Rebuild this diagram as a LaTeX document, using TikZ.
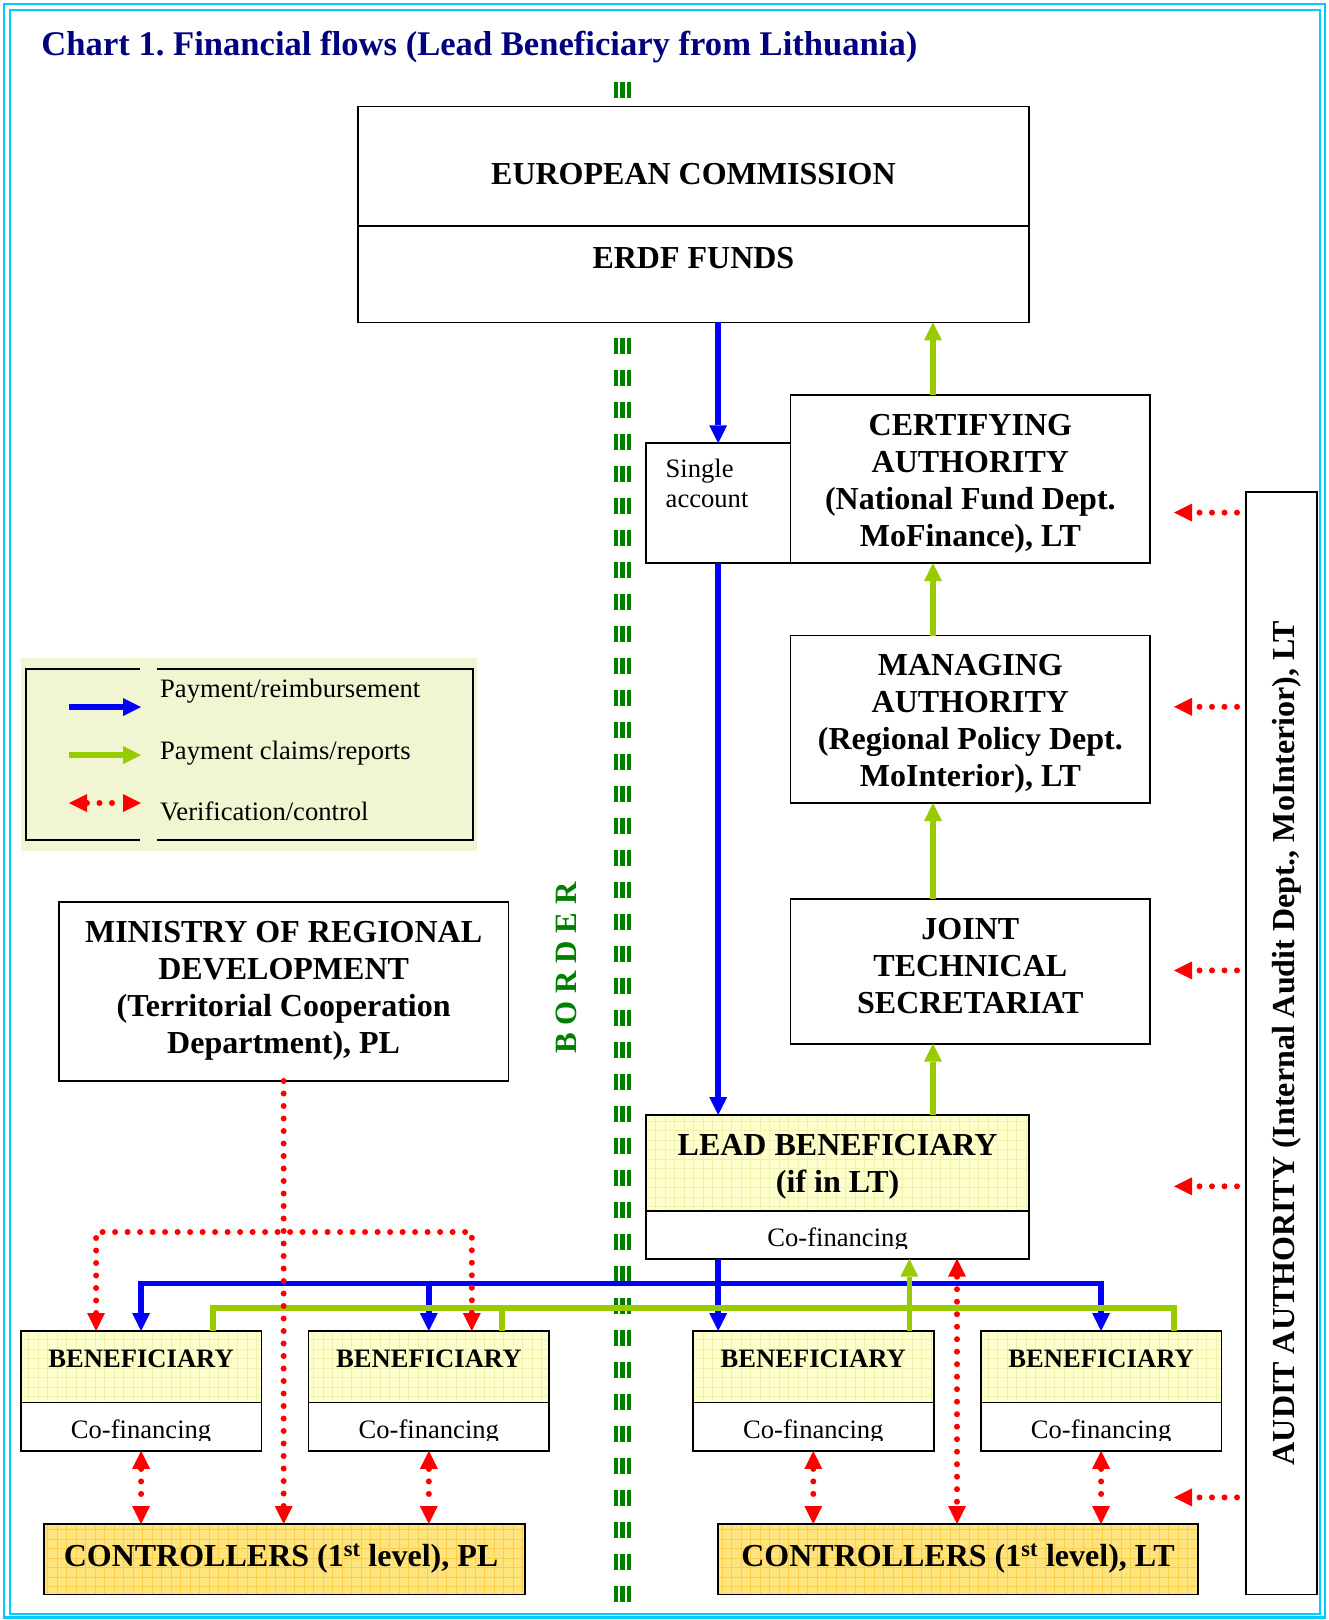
\documentclass[tikz,border=0pt]{standalone}
\usepackage{fontspec}
\setmainfont{Liberation Serif}
\usetikzlibrary{arrows.meta}
\frenchspacing
\definecolor{frameblue}{RGB}{0,204,255}
\definecolor{navy}{RGB}{0,0,128}
\definecolor{bordergreen}{RGB}{0,128,0}
\definecolor{payblue}{RGB}{0,0,255}
\definecolor{claimgreen}{RGB}{153,204,0}
\definecolor{lightyel}{RGB}{255,255,204}
\definecolor{lightyelgrid}{RGB}{240,240,175}
\definecolor{goldyel}{RGB}{255,228,125}
\definecolor{goldgrid}{RGB}{248,206,75}
\definecolor{legendbg}{RGB}{242,245,210}
\newcommand{\gfill}[6]{%
  \fill[#5] (#1,#2) rectangle (#3,#4);
  \begin{scope}
    \clip (#1,#2) rectangle (#3,#4);
    \draw[#6, line width=0.6pt, step=9.5pt] (#1,#2) grid (#3,#4);
  \end{scope}}
\tikzset{
  box/.style={draw=black, line width=1.8pt, fill=white, inner sep=0pt, outer sep=0pt},
  boxnf/.style={draw=black, line width=1.8pt, inner sep=0pt, outer sep=0pt},
  bigtxt/.style={font=\fontsize{32}{37}\selectfont\bfseries, align=center, inner sep=0pt},
  midtxt/.style={font=\fontsize{26.6}{30}\selectfont\bfseries, inner sep=0pt},
  smalltxt/.style={font=\fontsize{26.6}{30}\selectfont, inner sep=0pt},
  pay/.style={draw=payblue, line width=5.5pt},
  claim/.style={draw=claimgreen, line width=5.5pt},
  ver/.style={draw=red, line width=6pt, line cap=round, dash pattern=on 0pt off 12.5pt},
}
\begin{document}
\begin{tikzpicture}[x=1pt,y=-1pt,>={Triangle[length=18pt,width=18pt,line width=0pt]}]
\useasboundingbox (0,0) rectangle (1329,1620);
\fill[white] (0,0) rectangle (1329,1620);
% frame
\draw[frameblue, line width=2.5pt] (4,4) rectangle (1325,1617.5);
\draw[frameblue, line width=2pt] (9.5,10) rectangle (1320,1614);
% title
\node[anchor=base west, font=\fontsize{34.6}{40}\selectfont\bfseries, text=navy, inner sep=0pt] (title) at (41.3,55) {Chart 1. Financial flows (Lead Beneficiary from Lithuania)};
% border line
\foreach \xx/\ww in {615.5/4pt, 622/5pt, 628.5/4pt}
  \draw[bordergreen, line width=\ww, dash pattern=on 16pt off 16pt] (\xx,82) -- (\xx,1602);
\node[font=\fontsize{31}{31}\selectfont\bfseries, text=bordergreen, rotate=90, inner sep=0pt] (bordertxt) at (566,968) {B O R D E R};
% legend
\fill[legendbg] (21,658) rectangle (477,851);
\draw[black, line width=1.8pt] (140,669) -- (26,669) -- (26,840) -- (140,840);
\draw[black, line width=1.8pt] (157,669) -- (473,669) -- (473,840) -- (157,840);
\coordinate (lp1) at (69,707); \coordinate (lp2) at (141,707);
\coordinate (lc1) at (69,755); \coordinate (lc2) at (141,755);
\coordinate (lv1) at (69,803); \coordinate (lv2) at (141,803);
\draw[pay,->] (lp1) -- (lp2);
\draw[claim,->] (lc1) -- (lc2);
\draw[ver,<->] (lv1) -- (lv2);
\node[smalltxt, anchor=base west] (legp) at (160,697) {Payment/reimbursement};
\node[smalltxt, anchor=base west] (legc) at (160,759) {Payment claims/reports};
\node[smalltxt, anchor=base west] (legv) at (160,820) {Verification/control};
% European Commission
\node[box, minimum width=671.7pt, minimum height=216pt] (ec) at (693.45,214.4) {};
\coordinate (ecdiv) at (0,226.3);
\draw[line width=1.8pt] (ec.west |- ecdiv) -- (ec.east |- ecdiv);
\node[bigtxt, anchor=base] (ectxt) at (693.4,184) {EUROPEAN COMMISSION};
\node[bigtxt, anchor=base] (erdf) at (693.4,268) {ERDF FUNDS};
% single account
\node[box, minimum width=144.6pt, minimum height=119.9pt] (sa) at (718.2,503.25) {};
\node[smalltxt, anchor=base west] (satxt1) at (665.5,477) {Single};
\node[smalltxt, anchor=base west] (satxt2) at (665.5,507) {account};
% certifying
\node[box, minimum width=359.7pt, minimum height=168.4pt] (cert) at (970.35,479) {};
\node[bigtxt] (certtxt) at (970.35,483.7) {CERTIFYING\\AUTHORITY\\(National Fund Dept.\\MoFinance), LT};
% managing
\node[box, minimum width=359.7pt, minimum height=167.5pt] (ma) at (970.35,719.25) {};
\node[bigtxt] (matxt) at (970.35,723.5) {MANAGING\\AUTHORITY\\(Regional Policy Dept.\\MoInterior), LT};
% JTS
\node[box, minimum width=359.7pt, minimum height=144.7pt] (jts) at (970.35,971.35) {};
\node[bigtxt] (jtstxt) at (970.35,966) {JOINT\\TECHNICAL\\SECRETARIAT};
% ministry
\node[box, minimum width=449.5pt, minimum height=178.9pt] (min) at (283.65,991.55) {};
\node[bigtxt] (mintxt) at (283.65,991) {MINISTRY OF REGIONAL\\DEVELOPMENT\\(Territorial Cooperation\\Department), PL};
% lead beneficiary
\gfill{645.9}{1115}{1029.3}{1211}{lightyel}{lightyelgrid}
\node[boxnf, minimum width=383.4pt, minimum height=143.7pt] (lb) at (837.6,1186.85) {};
\coordinate (lbdiv) at (0,1211);
\draw[line width=1.8pt] (lb.west |- lbdiv) -- (lb.east |- lbdiv);
\node[bigtxt] (lbtxt) at (837.6,1167) {LEAD BENEFICIARY\\(if in LT)};
\begin{scope}
  \clip (646,1212) rectangle (1029,1248);
  \node[smalltxt, anchor=base] (lbcof) at (837.6,1246) {Co-financing};
\end{scope}
% beneficiaries
\foreach \nm/\cx in {b1/141.1, b2/428.85, b3/813.3, b4/1101.1}{
  \gfill{\cx-120.4}{1331}{\cx+120.4}{1402.4}{lightyel}{lightyelgrid}
  \node[boxnf, minimum width=240.8pt, minimum height=119.9pt] (\nm) at (\cx,1390.95) {};
  \draw[line width=1.8pt] (\cx-120.4,1402.4) -- (\cx+120.4,1402.4);
  \node[midtxt, anchor=base] (\nm t) at (\cx,1367) {BENEFICIARY};
  \begin{scope}
    \clip (\cx-119,1403.5) rectangle (\cx+119,1440.5);
    \node[smalltxt, anchor=base] (\nm c) at (\cx,1438) {Co-financing};
  \end{scope}
}
% controllers
\gfill{44}{1524}{525}{1594.5}{goldyel}{goldgrid}
\node[boxnf, minimum width=481pt, minimum height=70.5pt] (cpl) at (284.5,1559.25) {};
\node[bigtxt, anchor=base] (cpltxt) at (281,1566) {CONTROLLERS (1\textsuperscript{st} level), PL};
\gfill{718}{1524}{1197.7}{1594.5}{goldyel}{goldgrid}
\node[boxnf, minimum width=479.7pt, minimum height=70.5pt] (clt) at (957.85,1559.25) {};
\node[bigtxt, anchor=base] (clttxt) at (958,1566) {CONTROLLERS (1\textsuperscript{st} level), LT};
% audit authority
\node[box, minimum width=71pt, minimum height=1102.6pt] (aa) at (1281.5,1043.2) {};
\node[bigtxt, rotate=90] (aatxt) at (1287,1043) {AUDIT AUTHORITY (Internal Audit Dept., MoInterior), LT};
% ---- connectors ----
\coordinate (xg) at (933,0);
\coordinate (xlbv) at (957,0);
\coordinate (ybus) at (0,1283.5);
\coordinate (ygbus) at (0,1308);
\coordinate (ybr) at (0,1232);
% blue
\draw[pay,->] (ec.south -| sa.north) -- (sa.north);
\draw[pay,->] (sa.south) -- (lb.north -| sa.south);
\draw[pay,->] (lb.south -| sa.south) -- (b3.north -| sa.south);
\draw[pay,<->] (b1.north) -- (b1.north |- ybus) -- (b4.north |- ybus) -- (b4.north);
\draw[pay,->] (b2.north |- ybus) -- (b2.north);
% green
\draw[claim,->] (cert.north -| xg) -- (ec.south -| xg);
\draw[claim,->] (ma.north -| xg) -- (cert.south -| xg);
\draw[claim,->] (jts.north -| xg) -- (ma.south -| xg);
\draw[claim,->] (lb.north -| xg) -- (jts.south -| xg);
\coordinate (g1) at ([xshift=72pt]b1.north);
\coordinate (g2) at ([xshift=73pt]b2.north);
\coordinate (g3) at ([xshift=96pt]b3.north);
\coordinate (g4) at ([xshift=73pt]b4.north);
\draw[claim] (g1) -- (g1 |- ygbus) -- (g4 |- ygbus) -- (g4);
\draw[claim] (g2) -- (g2 |- ygbus);
\draw[claim,->] (g3) -- (g3 |- lb.south);
% red
\draw[ver,->] (min.south) -- (min.south |- cpl.north);
\coordinate (r1) at ([xshift=-45pt]b1.north);
\coordinate (r2) at ([xshift=43pt]b2.north);
\draw[ver,<->] (r1) -- (r1 |- ybr) -- (r2 |- ybr) -- (r2);
\draw[ver,<->] (b1.south) -- (b1.south |- cpl.north);
\draw[ver,<->] (b2.south) -- (b2.south |- cpl.north);
\draw[ver,<->] (b3.south) -- (b3.south |- clt.north);
\draw[ver,<->] (b4.south) -- (b4.south |- clt.north);
\draw[ver,<->] (lb.south -| xlbv) -- (clt.north -| xlbv);
\foreach \yy [count=\i] in {512.6,706.8,970.4,1186.3,1497.4}{
  \coordinate (at\i) at (1174,\yy);
  \draw[ver,->,shorten <=9pt] (aa.west |- at\i) -- (at\i);
}
\end{tikzpicture}
\end{document}
